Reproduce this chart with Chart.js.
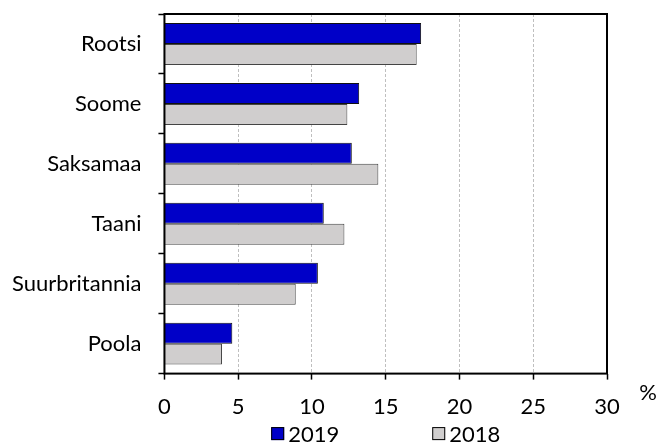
<!DOCTYPE html>
<html>
<head>
<meta charset="utf-8">
<script src="https://cdn.jsdelivr.net/npm/chart.js@4"></script>
<style>
  html, body { margin: 0; padding: 0; background: #fff; }
  #wrap { width: 660px; height: 444px; }
</style>
</head>
<body>
<div id="wrap"><canvas id="chartExport"></canvas></div>
<script>
const categories = ['Rootsi', 'Soome', 'Saksamaa', 'Taani', 'Suurbritannia', 'Poola'];
const values2019 = [17.4, 13.2, 12.7, 10.8, 10.4, 4.6];
const values2018 = [17.1, 12.4, 14.5, 12.2, 8.9, 3.9];
const xTicks = [0, 5, 10, 15, 20, 25, 30];

const FONT = 'Lato, "Open Sans", sans-serif';
const FONT_SIZE = 22;

// frame round the plot, the "%" unit label and the legend under the axis
const framePlugin = {
  id: 'frame',
  afterDraw(chart) {
    const { ctx, chartArea } = chart;
    ctx.save();
    ctx.strokeStyle = '#000';
    ctx.lineWidth = 2;
    ctx.strokeRect(chartArea.left, chartArea.top, chartArea.right - chartArea.left, chartArea.bottom - chartArea.top);

    ctx.fillStyle = '#000';
    ctx.font = FONT_SIZE + 'px ' + FONT;
    ctx.textBaseline = 'middle';
    ctx.textAlign = 'center';
    ctx.fillText('%', chartArea.right + 41, chartArea.bottom + 19);

    // legend
    const box = 13;
    const gap = 4;
    const spacing = 93;
    const items = chart.data.datasets.map((ds) => ({
      ds,
      w: box + gap + ctx.measureText(ds.label).width,
    }));
    const total = items.reduce((s, it) => s + it.w, 0) + spacing * (items.length - 1);
    let x = (chartArea.left + chartArea.right) / 2 - total / 2;
    const y = chartArea.bottom + 60;
    ctx.textAlign = 'left';
    items.forEach((it) => {
      ctx.fillStyle = it.ds.backgroundColor;
      ctx.fillRect(x, y - box / 2, box, box);
      ctx.lineWidth = 1;
      ctx.strokeStyle = '#000';
      ctx.strokeRect(x + 0.5, y - box / 2 + 0.5, box - 1, box - 1);
      ctx.fillStyle = '#000';
      ctx.fillText(it.ds.label, x + box + gap, y + 1);
      x += it.w + spacing;
    });
    ctx.restore();
  },
};

new Chart(document.getElementById('chartExport').getContext('2d'), {
  type: 'bar',
  data: {
    labels: categories,
    datasets: [
      {
        label: '2019',
        data: values2019,
        backgroundColor: '#0000C8',
        borderColor: '#111',
        borderWidth: 1,
      },
      {
        label: '2018',
        data: values2018,
        backgroundColor: '#D0CECE',
        borderColor: '#444',
        borderWidth: 1,
      },
    ],
  },
  options: {
    responsive: true,
    maintainAspectRatio: false,
    animation: false,
    indexAxis: 'y',
    layout: { padding: { top: 14, right: 53, left: -5, bottom: 10 } },
    datasets: { bar: { categoryPercentage: 0.7, barPercentage: 1.0 } },
    scales: {
      x: {
        min: 0,
        max: 30,
        afterBuildTicks: (scale) => { scale.ticks = xTicks.map((v) => ({ value: v })); },
        grid: {
          color: '#bfbfbf',
          lineWidth: 1,
          tickColor: '#000',
          tickLength: 6,
          tickWidth: 1.5,
        },
        border: { display: false, dash: [3, 2] },
        ticks: { color: '#000', font: { size: FONT_SIZE, family: FONT }, padding: 14 },
      },
      y: {
        afterFit(scale) {
          scale.paddingTop = 0;
          scale.paddingBottom = 0;
        },
        grid: {
          offset: true,
          drawOnChartArea: false,
          tickColor: '#000',
          tickLength: 6,
          tickWidth: 1.5,
        },
        border: { display: false },
        ticks: { color: '#000', font: { size: FONT_SIZE, family: FONT }, padding: 17 },
      },
    },
    plugins: {
      legend: { display: false },
      tooltip: { enabled: false },
    },
  },
  plugins: [framePlugin],
});
</script>
</body>
</html>
